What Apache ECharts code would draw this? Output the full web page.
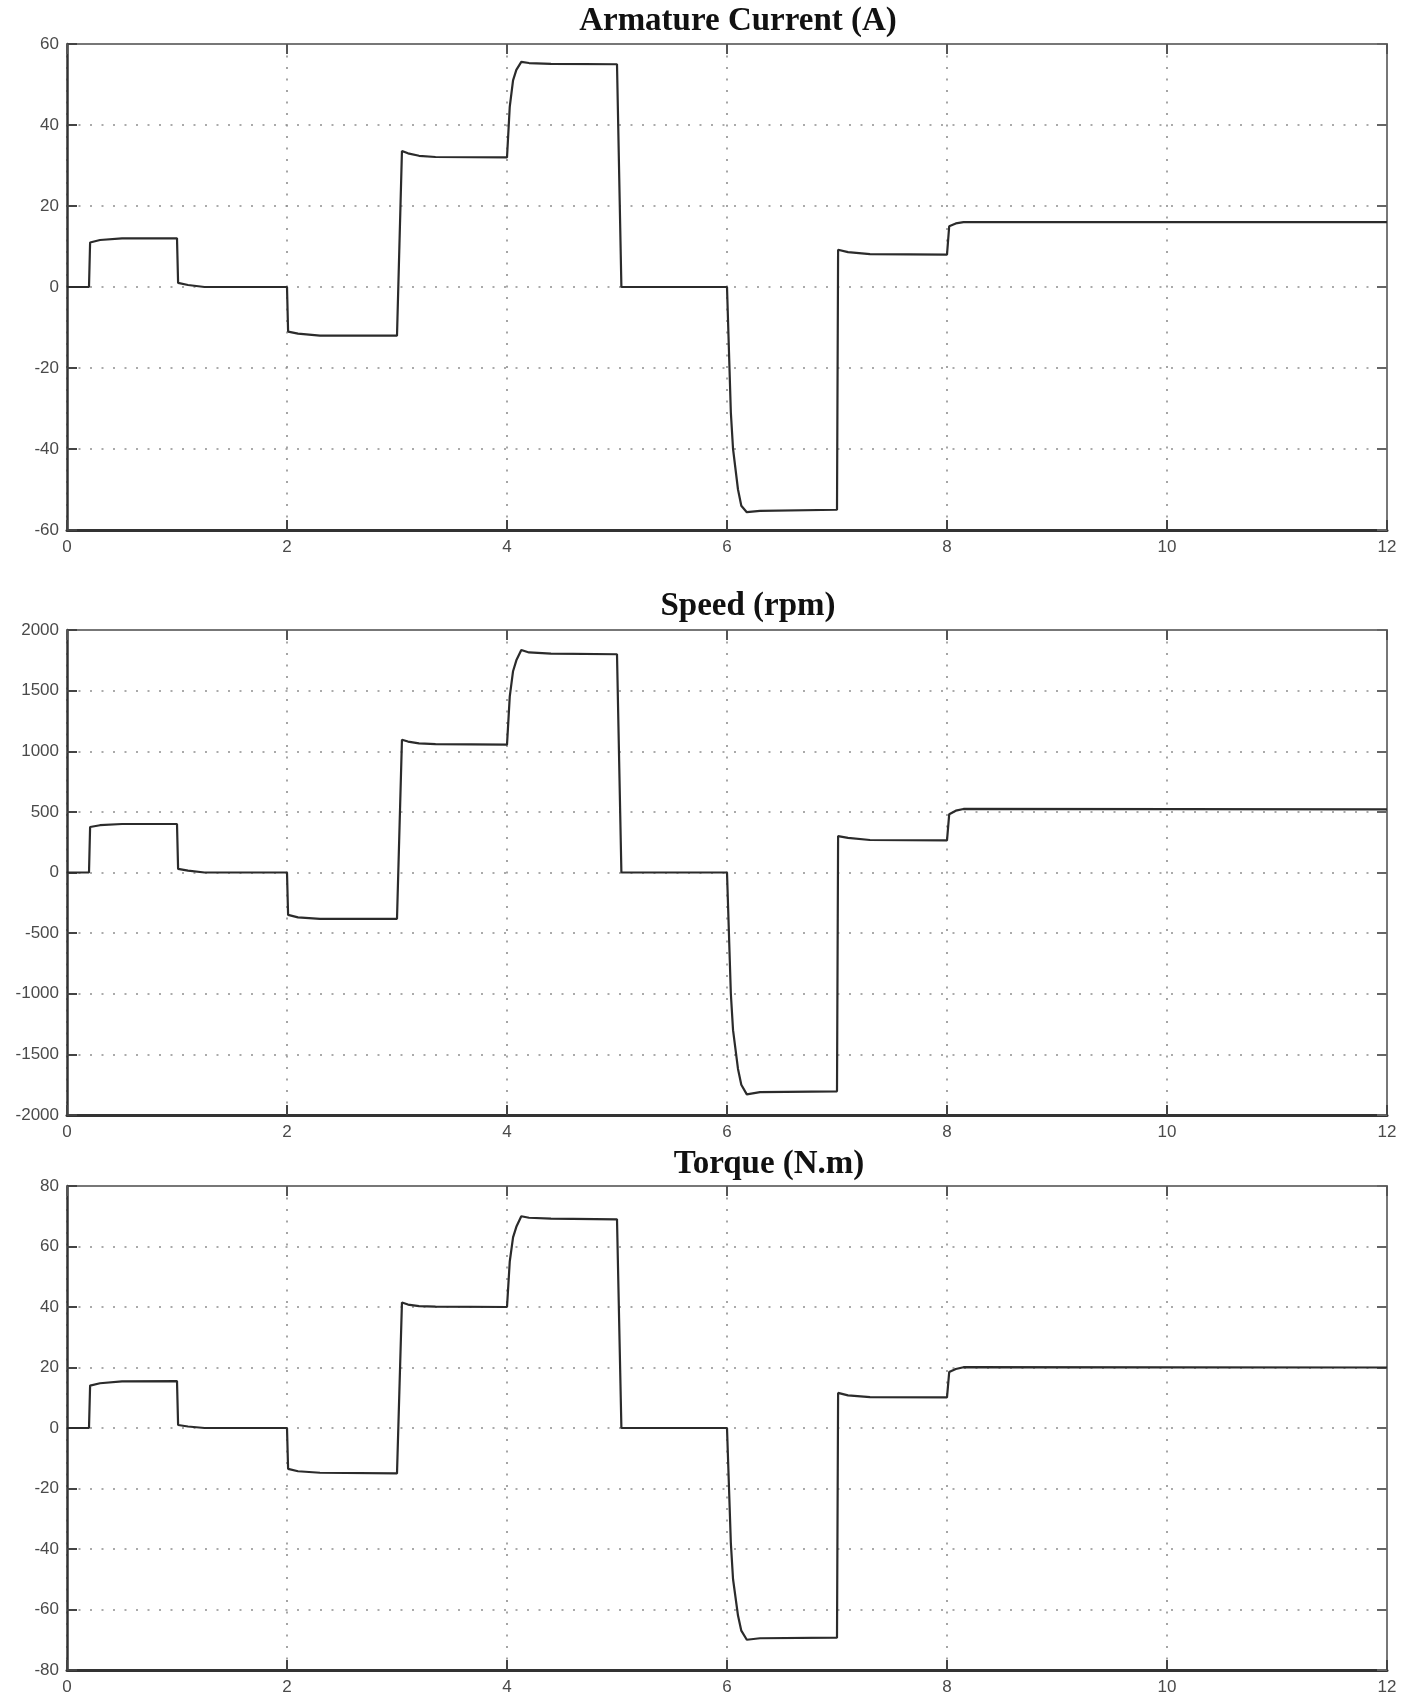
<!DOCTYPE html>
<html>
<head>
<meta charset="utf-8">
<script src="https://cdn.jsdelivr.net/npm/echarts@6/dist/echarts.min.js"></script>
<style>
html,body{margin:0;padding:0;background:#fff;}
#c{width:1415px;height:1696px;}
</style>
</head>
<body>
<div id="c"></div>
<script>
// ---- data ----
const titles = ['Armature Current (A)', 'Speed (rpm)', 'Torque (N.m)'];
const time = [0, 0.2, 0.21, 0.3, 0.5, 1.0, 1.01, 1.1, 1.25, 2.0, 2.01, 2.1, 2.3, 3.0, 3.045, 3.1, 3.2, 3.35, 4.0, 4.025, 4.055, 4.085, 4.13, 4.2, 4.4, 5.0, 5.04, 6.0, 6.035, 6.055, 6.1, 6.13, 6.18, 6.3, 7.0, 7.01, 7.1, 7.3, 8.0, 8.02, 8.08, 8.15, 12];
const current = [0, 0, 11, 11.6, 12, 12, 1, 0.5, 0, 0, -11, -11.5, -12, -12, 33.6, 33, 32.4, 32.1, 32, 44.5, 51, 53.6, 55.6, 55.3, 55.1, 55, 0, 0, -31, -40, -50, -54, -55.6, -55.3, -55, 9.2, 8.6, 8.1, 8, 15, 15.7, 16, 16];
const speed = [0, 0, 375, 390, 400, 400, 30, 15, 0, 0, -350, -370, -382, -382, 1095, 1080, 1065, 1058, 1055, 1450, 1660, 1750, 1835, 1815, 1805, 1800, 0, 0, -1000, -1300, -1620, -1750, -1830, -1812, -1805, 300, 285, 268, 265, 480, 510, 524, 520];
const torque = [0, 0, 14, 14.8, 15.4, 15.5, 1, 0.5, 0, 0, -13.5, -14.3, -14.8, -15, 41.5, 40.8, 40.3, 40.1, 40, 55, 63, 66.5, 70, 69.5, 69.2, 69, 0, 0, -38, -50, -62, -67, -70, -69.5, -69.3, 11.6, 10.8, 10.2, 10.1, 18.5, 19.5, 20.1, 20];
const xRange = {min: 0, max: 12, interval: 2};
const yRanges = [
  {min: -60, max: 60, interval: 20},
  {min: -2000, max: 2000, interval: 500},
  {min: -80, max: 80, interval: 20}
];
const seriesValues = [current, speed, torque];

// ---- layout ----
const grids = [
  {left: 67, top: 44, width: 1320, height: 486},
  {left: 67, top: 630, width: 1320, height: 485},
  {left: 67, top: 1186, width: 1320, height: 485}
];
const titlePos = [[738, 21], [748, 606], [769, 1164]];

const labelStyle = {color: '#4a4a4a', fontSize: 17, fontFamily: 'Liberation Sans, Arial, sans-serif', formatter: v => String(v)};
const dotted = {color: '#8f8f8f', width: 1.6, type: [2, 9.5]};

const xAxes = [], yAxes = [], series = [], graphics = [];
grids.forEach((g, i) => {
  xAxes.push({
    type: 'value', gridIndex: i, position: 'bottom',
    min: xRange.min, max: xRange.max, interval: xRange.interval,
    axisLine: {show: true, onZero: false, lineStyle: {color: '#333', width: 3}},
    axisTick: {show: true, inside: true, length: 10, lineStyle: {color: '#444', width: 2}},
    axisLabel: Object.assign({margin: 9}, labelStyle),
    splitLine: {show: true, lineStyle: dotted}
  });
  xAxes.push({
    type: 'value', gridIndex: i, position: 'top',
    min: xRange.min, max: xRange.max, interval: xRange.interval,
    axisLine: {show: true, onZero: false, lineStyle: {color: '#777', width: 2}},
    axisTick: {show: true, inside: true, length: 10, lineStyle: {color: '#555', width: 2}},
    axisLabel: {show: false},
    splitLine: {show: false}
  });
  const yr = yRanges[i];
  yAxes.push({
    type: 'value', gridIndex: i, position: 'left',
    min: yr.min, max: yr.max, interval: yr.interval,
    axisLine: {show: true, onZero: false, lineStyle: {color: '#333', width: 2.5}},
    axisTick: {show: true, inside: true, length: 10, lineStyle: {color: '#444', width: 2}},
    axisLabel: Object.assign({margin: 8}, labelStyle),
    splitLine: {show: true, lineStyle: dotted}
  });
  yAxes.push({
    type: 'value', gridIndex: i, position: 'right',
    min: yr.min, max: yr.max, interval: yr.interval,
    axisLine: {show: true, onZero: false, lineStyle: {color: '#777', width: 2}},
    axisTick: {show: true, inside: true, length: 10, lineStyle: {color: '#666', width: 2}},
    axisLabel: {show: false},
    splitLine: {show: false}
  });
  series.push({
    type: 'line', xAxisIndex: i * 2, yAxisIndex: i * 2,
    data: time.map((t, k) => [t, seriesValues[i][k]]),
    showSymbol: false, symbol: 'none',
    lineStyle: {color: '#2b2b2b', width: 2.2},
    animation: false
  });
  graphics.push({
    type: 'text', x: titlePos[i][0], y: titlePos[i][1],
    style: {
      text: titles[i], fill: '#111',
      font: 'bold 33px "Liberation Serif", "Times New Roman", serif',
      textAlign: 'center', textVerticalAlign: 'middle'
    }
  });
});

const chart = echarts.init(document.getElementById('c'), null, {renderer: 'canvas'});
chart.setOption({
  animation: false,
  backgroundColor: '#fff',
  grid: grids.map(g => Object.assign({containLabel: false}, g)),
  xAxis: xAxes,
  yAxis: yAxes,
  series: series,
  graphic: graphics
});
</script>
</body>
</html>
